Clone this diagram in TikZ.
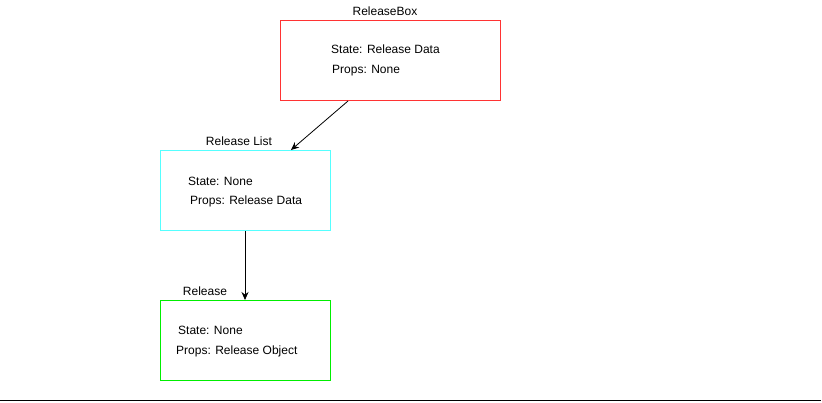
\documentclass[tikz,border=0pt]{standalone}
\usepackage{fontspec}
\setmainfont{Liberation Sans}
\usetikzlibrary{calc,arrows.meta}
\definecolor{boxred}{HTML}{FF3333}
\definecolor{boxcyan}{HTML}{55FFFF}
\definecolor{boxgreen}{HTML}{00EE00}
\begin{document}
\begin{tikzpicture}[x=1pt,y=-1pt,
  every node/.style={font=\fontsize{12}{14}\selectfont, inner sep=0pt},
  compbox/.style={draw, line width=1pt, minimum width=#1, minimum height=80pt, anchor=north west},
  txt/.style={anchor=west},
  conn/.style={draw=black, line width=0.8pt, -{Stealth[length=8pt,width=7pt]}}]
\useasboundingbox (0,0) rectangle (822,402);
\node[compbox=220pt, draw=boxred] (rb) at (280,20) {};
\node[compbox=170pt, draw=boxcyan] (rl) at (160,150) {};
\node[compbox=170pt, draw=boxgreen] (re) at (160,300) {};
\node (rbl) at (385,11) {ReleaseBox};
\node (rll) at (239,141) {Release List};
\node (rel) at (205,291) {Release};
\node[txt] (rb1) at (331,49) {State: Release Data};
\node[txt] (rb2) at (332,71) {Props: None};
\node[txt] (rl1) at (188,181) {State: None};
\node[txt] (rl2) at (190,201) {Props: Release Data};
\node[txt] (re1) at (178,330) {State: None};
\node[txt] (re2) at (176,351) {Props: Release Object};
\coordinate (a1s) at ($(rb.south west)+(68,0)$);
\coordinate (a1e) at ($(rl.north west)+(131,0)$);
\coordinate (a2s) at ($(rl.south west)+(85,0)$);
\coordinate (a2e) at ($(re.north west)+(85,0)$);
\draw[conn] (a1s) -- (a1e);
\draw[conn] (a2s) -- (a2e);
\coordinate (bl) at (0,400);
\coordinate (br) at (821,400);
\draw[line width=1pt] (bl) -- (br);
\end{tikzpicture}
\end{document}
